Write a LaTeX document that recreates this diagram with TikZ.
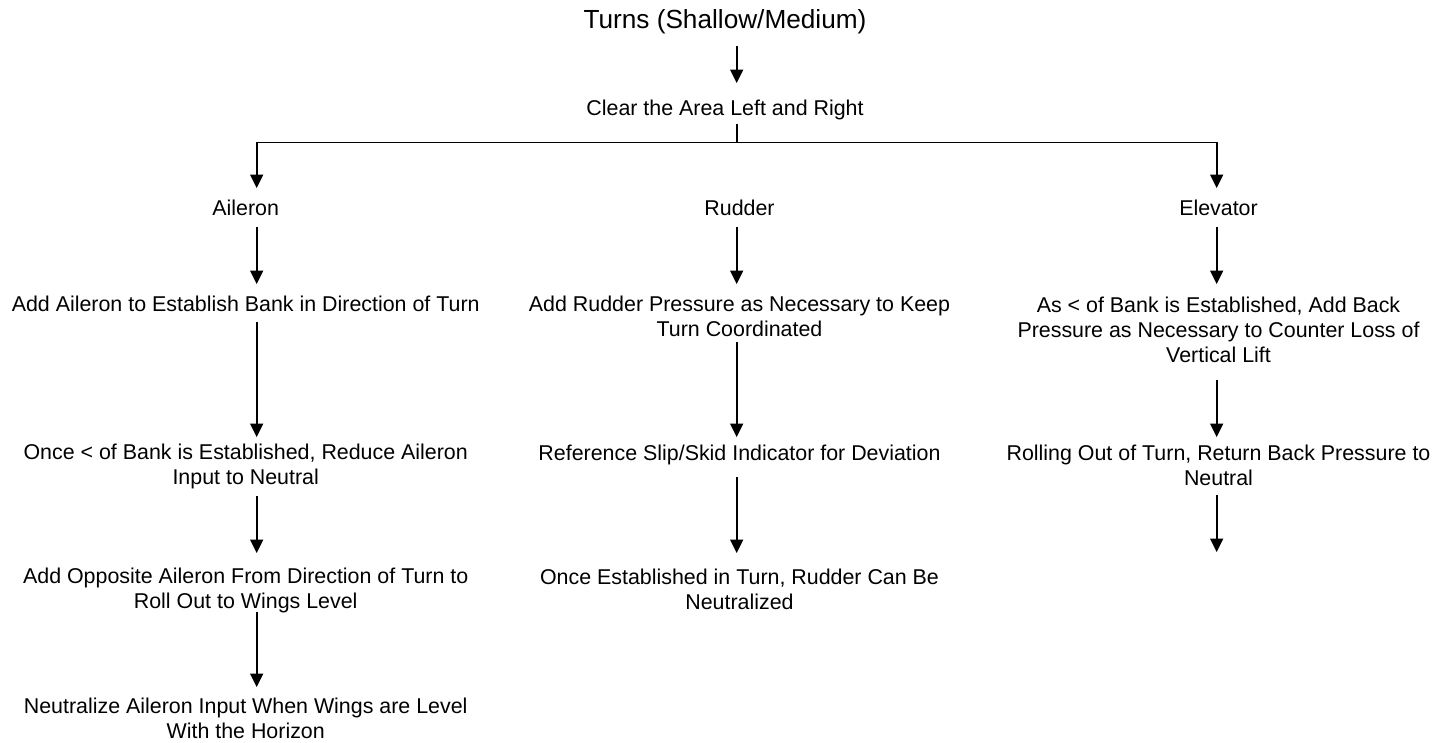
\documentclass[tikz,border=0pt]{standalone}
\usepackage{fontspec}
\setmainfont{Liberation Sans}
\usetikzlibrary{arrows.meta}
\begin{document}
\begin{tikzpicture}[x=1pt,y=-1pt,
  txt/.style={font=\fontsize{21.4}{25}\selectfont, align=center, inner sep=0pt, anchor=north},
  ttl/.style={font=\fontsize{26.2}{30}\selectfont, inner sep=0pt, anchor=north},
  conn/.style={line width=1.6pt},
  arr/.style={conn, -{Triangle[length=13.5pt,width=13pt]}}]
\useasboundingbox (0,0) rectangle (1450,742);
% nodes
\node[ttl] (title) at (725,7.4) {\strut Turns (Shallow/Medium)};
\node[txt] (clear) at (725,98.1) {\strut Clear the Area Left and Right};
\node[txt] (ail) at (245.7,198.1) {\strut Aileron};
\node[txt] (rud) at (739.5,198.1) {\strut Rudder};
\node[txt] (ele) at (1218.5,198.1) {\strut Elevator};
\node[txt] (a1) at (245.7,293.6) {\strut Add Aileron to Establish Bank in Direction of Turn};
\node[txt] (r1) at (739.5,294.1) {\strut Add Rudder Pressure as Necessary to Keep\\\strut Turn Coordinated};
\node[txt] (e1) at (1218.5,295.1) {\strut As < of Bank is Established, Add Back\\\strut Pressure as Necessary to Counter Loss of\\\strut Vertical Lift};
\node[txt] (a2) at (245.7,442.1) {\strut Once < of Bank is Established, Reduce Aileron\\\strut Input to Neutral};
\node[txt] (r2) at (739.5,443.1) {\strut Reference Slip/Skid Indicator for Deviation};
\node[txt] (e2) at (1218.5,443.1) {\strut Rolling Out of Turn, Return Back Pressure to\\\strut Neutral};
\node[txt] (a3) at (245.7,566.1) {\strut Add Opposite Aileron From Direction of Turn to\\\strut Roll Out to Wings Level};
\node[txt] (r3) at (739.5,567.1) {\strut Once Established in Turn, Rudder Can Be\\\strut Neutralized};
\node[txt] (a4) at (245.7,695.6) {\strut Neutralize Aileron Input When Wings are Level\\\strut With the Horizon};
% connector columns
\coordinate (colA) at (256.7,142.5);
\coordinate (colM) at (736.7,142.5);
\coordinate (colE) at (1216.7,142.5);
\coordinate (eend) at (1216.7,552);
% connectors
\draw[arr, shorten <=8.6pt, shorten >=15.1pt] (title.south -| colM) -- (clear.north -| colM);
\draw[conn] (clear.south -| colM) -- (colM);
\draw[arr, shorten >=10.1pt] (colM) -- (colA) -- (ail.north -| colA);
\draw[arr, shorten >=10.1pt] (colM) -- (colE) -- (ele.north -| colE);
\draw[arr, shorten <=3.9pt, shorten >=9.6pt] (ail.south -| colA) -- (a1.north -| colA);
\draw[arr, shorten <=3.9pt, shorten >=10.1pt] (rud.south -| colM) -- (r1.north -| colM);
\draw[arr, shorten <=3.9pt, shorten >=11.1pt] (ele.south -| colE) -- (e1.north -| colE);
\draw[arr, shorten <=3.4pt, shorten >=5.1pt] (a1.south -| colA) -- (a2.north -| colA);
\draw[arr, shorten <=-2.1pt, shorten >=6.1pt] (r1.south -| colM) -- (r2.north -| colM);
\draw[arr, shorten <=9.9pt, shorten >=6.1pt] (e1.south -| colE) -- (e2.north -| colE);
\draw[arr, shorten <=8.9pt, shorten >=14.1pt] (r2.south -| colM) -- (r3.north -| colM);
\draw[arr, shorten <=3.9pt, shorten >=13.1pt] (a2.south -| colA) -- (a3.north -| colA);
\draw[arr, shorten <=1.9pt] (e2.south -| colE) -- (eend);
\draw[arr, shorten <=-4.1pt, shorten >=8.6pt] (a3.south -| colA) -- (a4.north -| colA);
\end{tikzpicture}
\end{document}
